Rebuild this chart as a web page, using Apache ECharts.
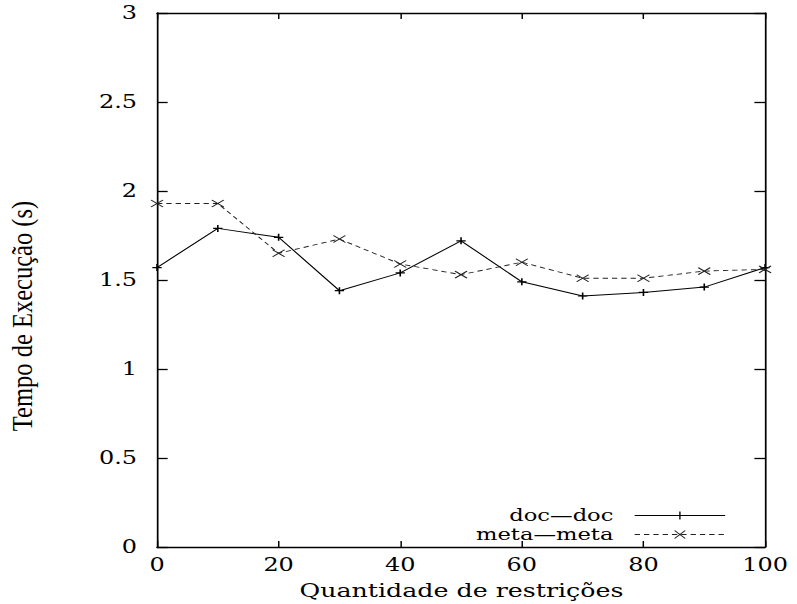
<!DOCTYPE html>
<html>
<head>
<meta charset="utf-8">
<script src="https://cdn.jsdelivr.net/npm/echarts@6/dist/echarts.min.js"></script>
<style>
  html, body { margin: 0; padding: 0; background: #fff; overflow: hidden; }
  /* The plot is laid out on a narrower canvas and widened horizontally,
     which gives the stretched glyphs and marks of a gnuplot PostScript figure. */
  #chart { width: 599px; height: 604px; transform: scaleX(1.33055); transform-origin: 0 0; }
</style>
</head>
<body>
<div id="chart"></div>
<script>
// Restriction counts on the x axis
const restricoes = [0, 10, 20, 30, 40, 50, 60, 70, 80, 90, 100];
// Execution time in seconds for each configuration
const docDoc   = [1.57, 1.79, 1.74, 1.44, 1.54, 1.72, 1.49, 1.41, 1.43, 1.46, 1.57];
const metaMeta = [1.93, 1.93, 1.65, 1.73, 1.59, 1.53, 1.60, 1.51, 1.51, 1.55, 1.56];
const seriesNames = ['doc\u2014doc', 'meta\u2014meta'];
const xTitle = 'Quantidade de restrições';
const yTitle = 'Tempo de Execução (s)';

const serif = '"DejaVu Serif", serif';
const times = '"Liberation Serif", "Times New Roman", serif';
const plusPath = 'path://M0,5L10,5M5,0L5,10';
const crossPath = 'path://M0,0L10,10M10,0L0,10';

const chart = echarts.init(document.getElementById('chart'), null, { renderer: 'svg' });

const pairs = (ys) => restricoes.map((x, i) => [x, ys[i]]);

// Each axis gets its own style objects
const frameLine = () => ({ show: true, onZero: false, lineStyle: { color: '#000', width: 1.3 } });
const xTick = () => ({ show: true, inside: true, length: 6, lineStyle: { color: '#000', width: 1.1 } });
const yTick = () => ({ show: true, inside: true, length: 8, lineStyle: { color: '#000', width: 1.3 } });

// Mirror axes close the frame on the top and right and carry inward ticks
const mirrorAxis = (extra) => Object.assign({
  type: 'value',
  axisLine: frameLine(),
  axisLabel: { show: false },
  splitLine: { show: false }
}, extra);

const legendBase = () => ({
  orient: 'vertical', align: 'right', right: 48.5, itemWidth: 68, itemHeight: 10,
  lineStyle: { width: 1 },
  itemStyle: { borderWidth: 1 },
  textStyle: { fontFamily: serif, fontSize: 17, lineHeight: 16, color: '#000', padding: [0, 11, 0, 0] }
});

const option = {
  backgroundColor: '#fff',
  animation: false,
  grid: { left: 118, right: 24, top: 13, bottom: 57, show: false },
  xAxis: [
    {
      type: 'value', min: 0, max: 100, interval: 20, position: 'bottom',
      axisLine: frameLine(),
      splitLine: { show: false },
      axisTick: xTick(),
      axisLabel: { show: true, color: '#000', fontFamily: serif, fontSize: 18, margin: 9 }
    },
    mirrorAxis({ min: 0, max: 100, interval: 20, position: 'top', axisTick: xTick() })
  ],
  yAxis: [
    {
      type: 'value', min: 0, max: 3, interval: 0.5, position: 'left',
      axisLine: frameLine(),
      splitLine: { show: false },
      axisTick: yTick(),
      axisLabel: { show: true, color: '#000', fontFamily: serif, fontSize: 18, margin: 15 }
    },
    mirrorAxis({ min: 0, max: 3, interval: 0.5, position: 'right', axisTick: yTick() })
  ],
  legend: [
    Object.assign(legendBase(), { data: [seriesNames[0]], top: 502 }),
    Object.assign(legendBase(), { data: [seriesNames[1]], top: 521 })
  ],
  series: [
    {
      name: seriesNames[0], type: 'line', data: pairs(docDoc),
      symbol: plusPath, symbolSize: [7, 7],
      itemStyle: { color: 'transparent', borderColor: '#000', borderWidth: 1.2 },
      lineStyle: { color: '#000', width: 1.0, type: 'solid' }
    },
    {
      name: seriesNames[1], type: 'line', data: pairs(metaMeta),
      symbol: crossPath, symbolSize: [9, 7],
      itemStyle: { color: 'transparent', borderColor: '#222', borderWidth: 1.0 },
      lineStyle: { color: '#222', width: 0.9, type: [4, 3] }
    }
  ],
  graphic: [
    {
      type: 'text', x: 346.8, y: 590,
      style: { text: xTitle, font: '19px ' + serif, fill: '#000', align: 'center', verticalAlign: 'middle' }
    },
    {
      type: 'text', x: 17, y: 316, rotation: Math.PI / 2, scaleX: 1.115,
      style: { text: yTitle, font: '22px ' + times, fill: '#000', align: 'center', verticalAlign: 'middle' }
    }
  ]
};

chart.setOption(option);
</script>
</body>
</html>
